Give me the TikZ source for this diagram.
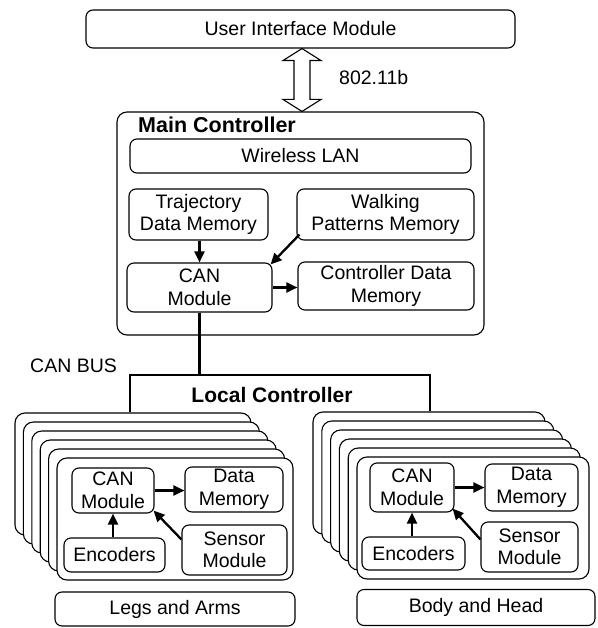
\documentclass[tikz,border=0pt]{standalone}
\usepackage{fontspec}
\setmainfont{Liberation Sans}
\usetikzlibrary{arrows.meta,calc}
\begin{document}
\begin{tikzpicture}[x=1pt,y=-1pt,
  box/.style={draw, line width=1.1pt, rounded corners=7pt, fill=white, align=center,
    inner sep=0pt, font=\fontsize{19.5}{22.5}\selectfont},
  card/.style={draw, line width=1.1pt, rounded corners=10pt, fill=white, inner sep=0pt},
  lcardbox/.style={card, minimum width=236pt, minimum height=122pt},
  rcardbox/.style={card, minimum width=232pt, minimum height=122pt},
  arr/.style={line width=2.3pt, -{Triangle[length=11pt,width=10pt]}},
  busline/.style={line width=2.2pt},
  lbl/.style={inner sep=0pt, font=\fontsize{19.5}{22.5}\selectfont},
  title/.style={inner sep=0pt, font=\fontsize{21.5}{24}\selectfont\bfseries}
]
\useasboundingbox (0,0) rectangle (597,628);

% top
\node[box, minimum width=429pt, minimum height=38pt] (ui) at (300.5,29) {User Interface Module};
\node[box, rounded corners=10pt, minimum width=367pt, minimum height=223pt] (mc) at (300.5,223.5) {};
\node[title, anchor=west] (mct) at (138,125) {Main Controller};
\node[box, minimum width=341pt, minimum height=34pt] (wl) at (300.5,156) {Wireless LAN};
\node[box, minimum width=139pt, minimum height=51pt] (tr) at (198.5,214.5) {Trajectory\\Data Memory};
\node[box, minimum width=177pt, minimum height=51pt] (wp) at (385.5,214.5) {Walking\\Patterns Memory};
\node[box, minimum width=145pt, minimum height=49pt] (canm) at (199.5,287.5) {CAN\\Module};
\node[box, minimum width=176pt, minimum height=48pt] (cd) at (386,286) {Controller Data\\Memory};

% wireless double arrow
\coordinate (ax) at (302,0);
\coordinate (ta) at (ui.south -| ax);
\coordinate (tb) at (mc.north -| ax);
\draw[line width=1.1pt, fill=white] (ta) -- ($(ta)+(-19,12)$) -- ($(ta)+(-8,12)$) -- ($(tb)+(-8,-12)$)
  -- ($(tb)+(-19,-12)$) -- (tb) -- ($(tb)+(19,-12)$) -- ($(tb)+(8,-12)$) -- ($(ta)+(8,12)$)
  -- ($(ta)+(19,12)$) -- cycle;
\node[lbl, anchor=west] (wifi) at (339,78) {802.11b};

\draw[arr] (canm.north |- tr.south) -- (canm.north);
\draw[arr] ($(wp.south west)+(3,-6)$) -- ($(canm.north east)+(-2,2)$);
\draw[arr] (canm.east) -- (canm.east -| cd.west);

% cards
\foreach \k in {0,...,5} {
  \node[lcardbox] (lc\k) at ({133+8.4*\k},{474+9*\k}) {};
  \node[rcardbox] (rc\k) at ({429+8.8*\k},{473+9*\k}) {};
}

% bus
\coordinate (bl) at (130,375);
\coordinate (br) at (430,375);
\draw[busline] (canm.south) -- (canm.south |- bl);
\draw[busline] (lc0.north -| bl) -- (bl) -- (br) -- (rc0.north -| br);
\node[lbl, anchor=west] (cbus) at (30,366) {CAN BUS};
\node[title, font=\fontsize{21}{24}\selectfont\bfseries] (lct) at (272,395) {Local Controller};

% left local controller
\node[box, minimum width=82pt, minimum height=45pt] (lcan) at (113,490.5) {CAN\\Module};
\node[box, minimum width=98pt, minimum height=45pt] (ldm) at (234,489.5) {Data\\Memory};
\node[box, minimum width=101pt, minimum height=34pt] (len) at (114.5,555) {Encoders};
\node[box, minimum width=105pt, minimum height=50pt] (lsm) at (234.5,550) {Sensor\\Module};
\node[box, minimum width=240pt, minimum height=34pt] (la) at (175,609) {Legs and Arms};
\draw[arr] (lcan.east) -- (lcan.east -| ldm.west);
\draw[arr] (len.north -| lcan.south) -- (lcan.south);
\draw[arr] ($(lsm.north west)+(0,15)$) -- ($(lcan.south east)+(-1,-3)$);

% right local controller
\node[box, minimum width=84pt, minimum height=49pt] (rcan) at (412,487.5) {CAN\\Module};
\node[box, minimum width=93pt, minimum height=47pt] (rdm) at (531.5,487.5) {Data\\Memory};
\node[box, minimum width=103pt, minimum height=33pt] (ren) at (413.5,553.5) {Encoders};
\node[box, minimum width=97pt, minimum height=50pt] (rsm) at (529.5,547) {Sensor\\Module};
\node[box, minimum width=238pt, minimum height=36pt] (bh) at (476,607.5) {Body and Head};
\draw[arr] (rcan.east) -- (rcan.east -| rdm.west);
\draw[arr] (ren.north -| rcan.south) -- (rcan.south);
\draw[arr] ($(rsm.north west)+(0,18)$) -- ($(rcan.south east)+(-2,-4)$);
\end{tikzpicture}
\end{document}
